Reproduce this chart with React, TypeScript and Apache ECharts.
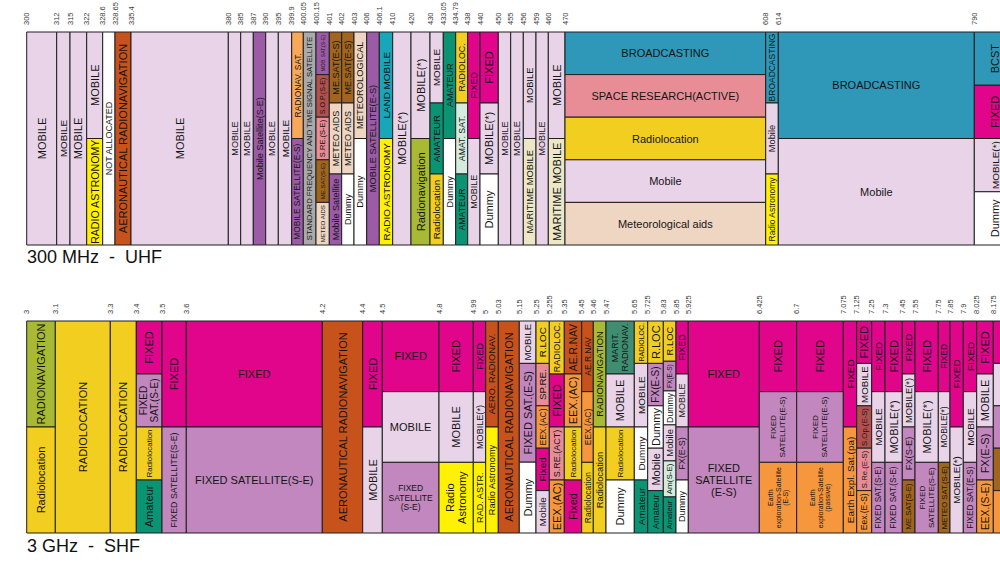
import React, { useEffect, useRef } from "react";
import * as echarts from "echarts";

const FONT = '"Liberation Sans", Arial, Helvetica, sans-serif';

// ---- UHF panel (300 MHz ...) ----
const uhfFreqs = ["300","312","315","322","328.6","328.65","335.4","380","385","387","390","395","399.9","400.05","400.15","401","402","403","406","406.1","410","420","430","433.05","434.79","438","440","450","455","456","459","460","470","608","614","790"];
// display width of each band on the chart's (non-linear) frequency axis
const uhfSpans = [30,13.3,16.7,16,12.3,16,97.3,12.4,12.6,12.4,12.6,13.4,11.6,12.7,13.3,12.4,12.3,12.7,12.6,13.4,18.3,19,13.3,12.4,12,12.3,18.3,12.4,12.6,12.7,12.3,16.7,200.7,12.6,196,42];
const uhfServices: any[] = [
  [["MOBILE","mob"]],
  [["MOBILE","mob"]],
  [["MOBILE","mob"]],
  [["MOBILE","mob"],["RADIO ASTRONOMY","ras"]],
  [["NOT ALLOCATED","na"]],
  [["AERONAUTICAL RADIONAVIGATION","arn"]],
  [["MOBILE","mob"]],
  [["MOBILE","mob"]],
  [["MOBILE","mob"]],
  [["Mobile Satellite(S-E)","mss"]],
  [["MOBILE","mob"]],
  [["MOBILE","mob"]],
  [["RADIONAV. SAT.","rns"],["MOBILE SATELLITE(E-S)","mss"]],
  [["STANDARD FREQUENCY AND TIME SIGNAL SATELLITE","sft"]],
  [["MOB. SAT.(S-E)","mss"],["S.O.P.(S-E)","sop"],["S.RE.(S-E)","sre"],["ME.SAT(S-E)","mes"],["METEO AIDS","met"]],
  [["ME.SAT(E-S)","mes"],["METEO AIDS","met"],["Mobile Satellite","mss"]],
  [["ME.SAT(E-S)","mes"],["METEO AIDS","met"],["Dummy","dum"]],
  [["METEOROLOGICAL","met"],["Dummy","dum"]],
  [["MOBILE SATELLITE(E-S)","mss"]],
  [["LAND MOBILE","lmo"],["RADIO ASTRONOMY","ras"]],
  [["MOBILE(*)","mob"]],
  [["MOBILE(*)","mob"],["Radionavigation","rnv"]],
  [["MOBILE","mob"],["AMATEUR","ama"],["Radiolocation","rlo"]],
  [["AMATEUR","ama"],["Dummy","dum"]],
  [["RADIOLOC.","rlo"],["AMAT. SAT.","ams"],["AMATEUR","ama"]],
  [["FIXED","fix"],["MOBILE","mob"]],
  [["FIXED","fix"],["MOBILE(*)","mob"],["Dummy","dum"]],
  [["MOBILE","mob"]],
  [["MOBILE","mob"]],
  [["MOBILE","mob"],["MARITIME MOBILE","mmo"]],
  [["MOBILE","mob"]],
  [["MOBILE","mob"],["MARITIME MOBILE","mmo"]],
  [["BROADCASTING","bc"],["SPACE RESEARCH(ACTIVE)","sre"],["Radiolocation","rlo"],["Mobile","mob"],["Meteorological aids","met"]],
  [["BROADCASTING","bc"],["Mobile","mob"],["Radio Astronomy","ras"]],
  [["BROADCASTING","bc"],["Mobile","mob"]],
  [["BCST","bc"],["FIXED","fix"],["MOBILE(*)","mob"],["Dummy","dum"]],
];

// ---- SHF panel (3 GHz ...) ----
const shfFreqs = ["3","3.1","3.3","3.4","3.5","3.6","4.2","4.4","4.5","4.8","4.99","5","5.03","5.15","5.25","5.255","5.35","5.45","5.46","5.47","5.65","5.725","5.83","5.85","5.925","6.425","6.7","7.075","7.125","7.25","7.3","7.45","7.55","7.75","7.85","7.9","8.025","8.175"];
const shfSpans = [28.6,55,26,25.7,24.3,136,40.4,19.6,56.7,34.3,12.4,12.6,21,16.7,13.3,15,17.4,11.6,12.7,28.3,13.4,15.6,12.7,12.3,71,37.4,46.6,13.4,15,13.3,17.3,12.7,23.3,11.7,13.3,13.4,16.6,40];
const shfServices: any[] = [
  [["RADIONAVIGATION","rnv"],["Radiolocation","rlo"]],
  [["RADIOLOCATION","rlo"]],
  [["RADIOLOCATION","rlo"]],
  [["FIXED","fix"],["FIXED\nSAT.(S-E)","fss"],["Radiolocation","rlo"],["Amateur","ama"]],
  [["FIXED","fix"],["FIXED SATELLITE(S-E)","fss"]],
  [["FIXED","fix"],["FIXED SATELLITE(S-E)","fss"]],
  [["AERONAUTICAL RADIONAVIGATION","arn"]],
  [["FIXED","fix"],["MOBILE","mob"]],
  [["FIXED","fix"],["MOBILE","mob"],["FIXED\nSATELLITE\n(S-E)","fss"]],
  [["FIXED","fix"],["MOBILE","mob"],["Radio\nAstronomy","ras"]],
  [["FIXED","fix"],["MOBILE(*)","mob"],["RAD. ASTR.","ras"]],
  [["AERO. RADIONAV.","arn"],["Radio Astronomy","ras"]],
  [["AERONAUTICAL RADIONAVIGATION","arn"]],
  [["MOBILE","mob",0.2],["FIXED SAT.(E-S)","fss",0.466],["Dummy","dum",0.334]],
  [["R.LOC","rlo"],["SP.RE.","sre"],["EEX.(AC)","eex"],["Fixed","fix"],["Mobile","mob"]],
  [["RADIOLOC.","rlo"],["FIXED","fix"],["S.RE.(ACT)","sre"],["EEX.(AC)","eex"]],
  [["AE.R.NAV","arn"],["EEX.(AC)","eex"],["Radiolocation","rlo"],["Fixed","fix"]],
  [["AE.R.NAV","arn"],["EEX.(AC)","eex"],["Radiolocation","rlo"]],
  [["RADIONAVIGATION","rnv"],["Radiolocation","rlo"]],
  [["MARIT.\nRADIONAV.","mrn"],["MOBILE","mob"],["Radiolocation","rlo"],["Dummy","dum"]],
  [["RADIOLOC.","rlo",0.2],["MOBILE","mob",0.3],["Dummy","dum",0.25],["Amateur","ama",0.25]],
  [["R.LOC","rlo"],["FX(E-S)","fss"],["Dummy","dum"],["Mobile","mob"],["Amateur","ama"]],
  [["R.LOC","rlo",0.19],["FX(E-S)","fss",0.14],["Dummy","dum",0.16],["Mobile","mob",0.17],["Am(S-E)","ams",0.17],["Amateur","ama",0.17]],
  [["FIXED","fix"],["MOBILE","mob"],["FX(E-S)","fss"],["Dummy","dum"]],
  [["FIXED","fix"],["FIXED\nSATELLITE\n(E-S)","fss"]],
  [["FIXED","fix"],["FIXED\nSATELLITE(E-S)","fss"],["Earth\nexploration-Satellite\n(E-S)","eex"]],
  [["FIXED","fix"],["FIXED\nSATELLITE(E-S)","fss"],["Earth\nexploration-Satellite\n(passive)","eex"]],
  [["FIXED","fix"],["Earth Expl. Sat.(pa)","eex"]],
  [["FIXED","fix"],["MOBILE","mob"],["S.Op.(E-S)","sop"],["S.Re.(E-S)","sre"],["Eex.(E-S)","eex"]],
  [["FIXED","fix"],["MOBILE","mob"],["FIXED SAT.(S-E)","fss"]],
  [["FIXED","fix"],["MOBILE(*)","mob"],["FIXED SAT.(S-E)","fss"]],
  [["FIXED","fix"],["MOBILE(*)","mob"],["FX(S-E)","fss"],["ME.SAT(S-E)","mes"]],
  [["FIXED","fix"],["MOBILE(*)","mob"],["FIXED\nSATELLITE(S-E)","fss"]],
  [["FIXED","fix"],["MOBILE(*)","mob"],["METEO SAT.(S-E)","mes"]],
  [["FIXED","fix"],["MOBILE(*)","mob"]],
  [["FIXED","fix"],["MOBILE","mob"],["FIXED SAT.(E-S)","fss"]],
  [["FIXED","fix"],["MOBILE","mob"],["FX(E-S)","fss"],["EEX.(S-E)","eex"]],
  [["FIXED","fix"],["MOBILE","mob"],["FXD","fss"],["ME.SAT(S-E)","mes"],["EEX.(S-E)","eex"]],
];

const serviceColors: Record<string, string> = {
  mob: "#E9D3E8", fix: "#E1058B", ras: "#FFF200", arn: "#C8521C", na: "#FFFFFF",
  mss: "#9C5BA7", rns: "#F7A85A", sft: "#AAAAAA", met: "#EFD6C2", mes: "#A0651E",
  sre: "#E88D95", sop: "#B3514F", lmo: "#17A7B9", rnv: "#A8B934", rlo: "#F2CE21",
  ama: "#0A9474", ams: "#D3ECDD", mmo: "#EBE7C7", bc: "#2F97B8", fss: "#C287BE",
  eex: "#F7973D", mrn: "#3F8E72", dum: "#FFFFFF",
};

function emWidth(s: string) {
  let w = 0;
  for (const ch of s) {
    if (/[MW]/.test(ch)) w += 0.83;
    else if (/[IJ]/.test(ch)) w += 0.3;
    else if (/[A-Z]/.test(ch)) w += 0.68;
    else if (/[ilj]/.test(ch)) w += 0.23;
    else if (/[mw]/.test(ch)) w += 0.8;
    else if (/[a-z]/.test(ch)) w += 0.52;
    else if (/[0-9]/.test(ch)) w += 0.56;
    else if (/[ .,]/.test(ch)) w += 0.28;
    else if (/[()\-*]/.test(ch)) w += 0.34;
    else w += 0.5;
  }
  return w;
}

function buildCells(spans: number[], services: any[]) {
  const cells: any[] = [];
  let x = 0;
  spans.forEach((sp, i) => {
    const list = services[i];
    const tot = list.reduce((a: number, c: any) => a + (c[2] ?? 1), 0);
    let y = 0;
    list.forEach((c: any) => {
      const wt = c[2] ?? 1;
      cells.push({ x0: x, x1: x + sp, y0: y / tot, y1: (y + wt) / tot, label: c[0], key: c[1] });
      y += wt;
    });
    x += sp;
  });
  return cells;
}

function buildTicks(spans: number[], freqs: string[]) {
  const out: any[] = [];
  let x = 0;
  spans.forEach((sp, i) => {
    out.push({ x, label: freqs[i] });
    x += sp;
  });
  return out;
}

function cellSeries(cells: any[], gi: number) {
  return {
    type: "custom",
    xAxisIndex: gi,
    yAxisIndex: gi,
    clip: false,
    silent: true,
    data: cells.map((c) => [c.x0, c.x1, c.y0, c.y1]),
    renderItem: (params: any, api: any) => {
      const c = cells[params.dataIndex];
      const p0 = api.coord([c.x0, c.y0]);
      const p1 = api.coord([c.x1, c.y1]);
      const x = p0[0], y = p0[1];
      const w = p1[0] - p0[0], h = p1[1] - p0[1];
      const lines = String(c.label).split("\n");
      const maxEm = Math.max(...lines.map(emWidth));
      const horiz = w > 50 && w / h > 0.6;
      let fs: number;
      if (horiz) {
        fs = Math.min(11, (w - 8) / maxEm, (h - 4) / (lines.length * 1.25));
      } else {
        fs = Math.min(11, (w - 1.5) / (lines.length * 1.2), (h - 5) / maxEm);
      }
      fs = Math.max(4.5, fs);
      return {
        type: "group",
        children: [
          {
            type: "rect",
            shape: { x, y, width: w, height: h },
            style: { fill: serviceColors[c.key], stroke: "#1f1f1f", lineWidth: 1 },
          },
          {
            type: "text",
            x: x + w / 2,
            y: y + h / 2,
            rotation: horiz ? 0 : Math.PI / 2,
            style: {
              text: c.label,
              fontSize: fs,
              fontFamily: FONT,
              fill: "#151515",
              align: "center",
              verticalAlign: "middle",
              lineHeight: fs * 1.12,
            },
          },
        ],
      };
    },
  };
}

function tickSeries(ticks: any[], gi: number) {
  return {
    type: "custom",
    xAxisIndex: gi,
    yAxisIndex: gi,
    clip: false,
    silent: true,
    data: ticks.map((t) => [t.x, 0]),
    renderItem: (params: any, api: any) => {
      const t = ticks[params.dataIndex];
      const p = api.coord([t.x, 0]);
      return {
        type: "text",
        x: p[0],
        y: p[1] - 7,
        rotation: Math.PI / 2,
        style: {
          text: t.label,
          fontSize: 7.5,
          fontFamily: FONT,
          fill: "#3a3a3a",
          align: "left",
          verticalAlign: "middle",
        },
      };
    },
  };
}

export default function App() {
  const ref = useRef<HTMLDivElement>(null);
  useEffect(() => {
    if (!ref.current) return;
    const chart = echarts.init(ref.current, undefined, { renderer: "svg" });
    const uhfCells = buildCells(uhfSpans, uhfServices);
    const shfCells = buildCells(shfSpans, shfServices);
    const uhfTotal = uhfSpans.reduce((a, b) => a + b, 0);
    const shfTotal = shfSpans.reduce((a, b) => a + b, 0);
    chart.setOption({
      animation: false,
      backgroundColor: "#ffffff",
      grid: [
        { left: 26.7, top: 32, width: uhfTotal, height: 213 },
        { left: 26.7, top: 321, width: shfTotal, height: 212 },
      ],
      xAxis: [
        { type: "value", gridIndex: 0, min: 0, max: uhfTotal, show: false },
        { type: "value", gridIndex: 1, min: 0, max: shfTotal, show: false },
      ],
      yAxis: [
        { type: "value", gridIndex: 0, min: 0, max: 1, inverse: true, show: false },
        { type: "value", gridIndex: 1, min: 0, max: 1, inverse: true, show: false },
      ],
      graphic: [
        {
          type: "text",
          left: 27,
          top: 248,
          style: { text: "300 MHz  -  UHF", fontSize: 18, fontFamily: FONT, fill: "#111" },
        },
        {
          type: "text",
          left: 27,
          top: 537,
          style: { text: "3 GHz  -  SHF", fontSize: 18, fontFamily: FONT, fill: "#111" },
        },
      ],
      series: [
        cellSeries(uhfCells, 0),
        tickSeries(buildTicks(uhfSpans, uhfFreqs), 0),
        cellSeries(shfCells, 1),
        tickSeries(buildTicks(shfSpans, shfFreqs), 1),
      ],
    });
    return () => chart.dispose();
  }, []);
  return (
    <div style={{ position: "fixed", left: 0, top: 0, width: 1000, height: 563, overflow: "hidden", background: "#fff" }}>
      <div ref={ref} style={{ width: 1100, height: 563 }} />
    </div>
  );
}
